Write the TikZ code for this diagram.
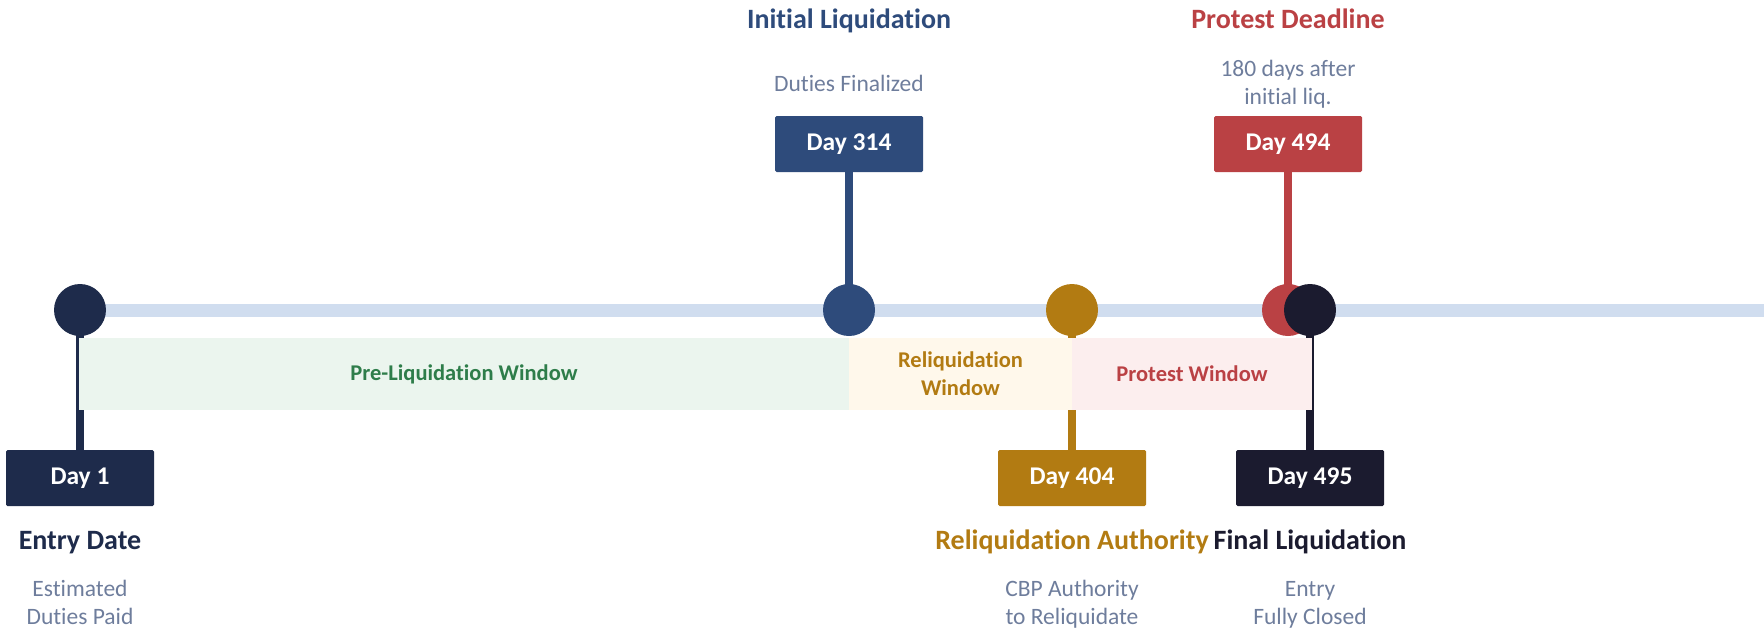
\documentclass[tikz,border=0pt]{standalone}
\usepackage{fontspec}
\setmainfont{Carlito}[Ligatures=NoCommon]
\usepackage{xcolor}
\usepackage{tikz}
\usetikzlibrary{positioning}

\definecolor{navyA}{HTML}{1E2B4B}
\definecolor{blueA}{HTML}{2E4B7B}
\definecolor{amberA}{HTML}{B27B12}
\definecolor{redA}{HTML}{BA4144}
\definecolor{inkA}{HTML}{1B1B2F}
\definecolor{trackA}{HTML}{D0DDEF}
\definecolor{subA}{HTML}{6E7D9C}
\definecolor{greenA}{HTML}{2E7D4A}
\definecolor{greenF}{HTML}{EBF5EE}
\definecolor{amberF}{HTML}{FFF8EB}
\definecolor{redF}{HTML}{FCEEEE}

\pgfdeclarelayer{bg}
\pgfdeclarelayer{mid}
\pgfsetlayers{bg,mid,main}

\begin{document}
\begin{tikzpicture}[x=1pt, y=-1pt,
    dot/.style={circle, inner sep=0pt, minimum size=52pt},
    daybox/.style={rectangle, rounded corners=1.5pt, minimum width=148pt, minimum height=56pt,
        text=white, font=\fontsize{25.5}{28}\selectfont\bfseries},
    stem/.style={line width=8pt},
    win/.style={rectangle, inner sep=0pt, minimum height=72pt, align=center,
        font=\fontsize{22.5}{28}\selectfont\bfseries},
    title/.style={anchor=base, font=\fontsize{28}{32}\selectfont\bfseries},
    sub/.style={anchor=base, align=center, text=subA, font=\fontsize{23.5}{28}\selectfont}]
    \useasboundingbox (0,0) rectangle (1764,629);

    % milestones on the track
    \node[dot, fill=navyA] (d1) at (80,310) {};
    \node[dot, fill=blueA] (d314) at (849,310) {};
    \node[dot, fill=amberA] (d404) at (1072,310) {};
    \node[dot, fill=redA] (d494) at (1288,310) {};
    \node[dot, fill=inkA] (d495) at (1310,310) {};
    \coordinate (trackend) at (1764,310);

    % day boxes
    \node[daybox, fill=navyA] (b1) at (80,478) {Day 1};
    \node[daybox, fill=blueA] (b314) at (849,144) {Day 314};
    \node[daybox, fill=amberA] (b404) at (1072,478) {Day 404};
    \node[daybox, fill=redA] (b494) at (1288,144) {Day 494};
    \node[daybox, fill=inkA] (b495) at (1310,478) {Day 495};

    \begin{pgfonlayer}{bg}
        \draw[trackA, line width=13pt] (d1.center) -- (trackend);
        \draw[stem, navyA] (d1.center) -- (b1);
        \draw[stem, blueA] (d314.center) -- (b314);
        \draw[stem, amberA] (d404.center) -- (b404);
        \draw[stem, redA] (d494.center) -- (b494);
        \draw[stem, inkA] (d495.center) -- (b495);
    \end{pgfonlayer}

    % windows
    \begin{pgfonlayer}{mid}
        \node[win, fill=greenF, text=greenA, minimum width=770pt] (w1) at (464,374) {Pre-Liquidation Window};
        \node[win, fill=amberF, text=amberA, minimum width=223pt] (w2) at (960.5,374) {Reliquidation\\Window};
        \node[win, fill=redF, text=redA, minimum width=240pt] (w3) at (1192,374) {Protest Window};
    \end{pgfonlayer}

    % labels
    \node[title, text=navyA] (t1) at (80,549) {Entry Date};
    \node[sub] (s1) at (80,624) {Estimated\\Duties Paid};
    \node[title, text=blueA] (t314) at (849,28) {Initial Liquidation};
    \node[sub] (s314) at (849,91) {Duties Finalized};
    \node[title, text=amberA] (t404) at (1072,549) {Reliquidation Authority};
    \node[sub] (s404) at (1072,624) {CBP Authority\\to Reliquidate};
    \node[title, text=redA] (t494) at (1288,28) {Protest Deadline};
    \node[sub] (s494) at (1288,104) {180 days after\\initial liq.};
    \node[title, text=inkA] (t495) at (1310,549) {Final Liquidation};
    \node[sub] (s495) at (1310,624) {Entry\\Fully Closed};
\end{tikzpicture}
\end{document}
